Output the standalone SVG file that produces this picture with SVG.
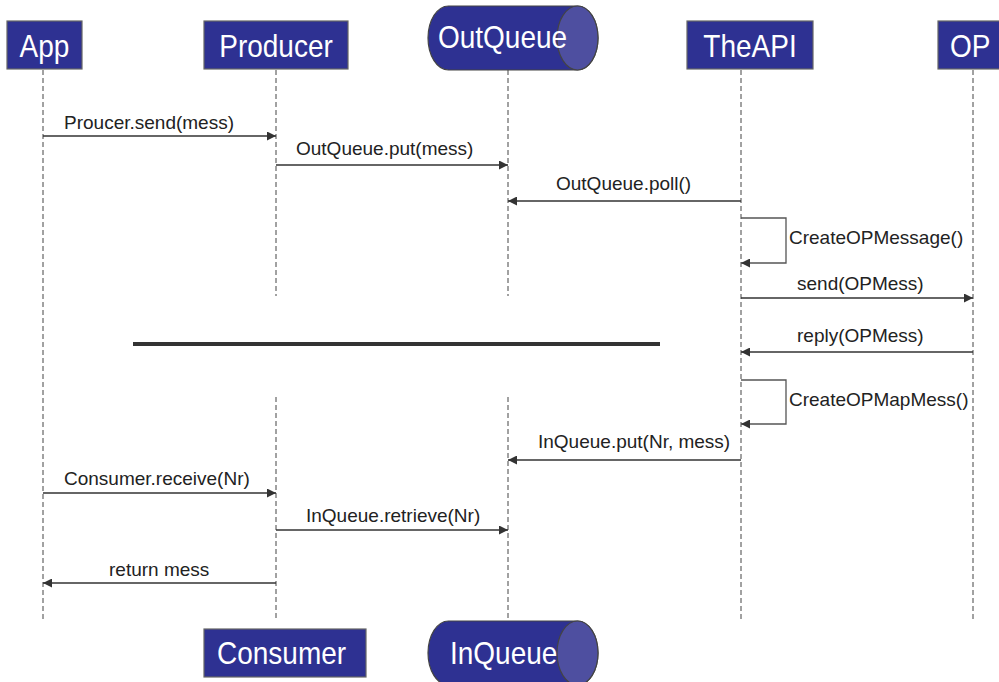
<svg xmlns="http://www.w3.org/2000/svg" width="999" height="682" viewBox="0 0 999 682">
<defs>
<style>
.box{fill:#2e3192;stroke:#666;stroke-width:1.2}
.cyl{fill:#2e3192;stroke:#444;stroke-width:1.2}
.cap{fill:#4e4fa0;stroke:#444;stroke-width:1.2}
.bt{font-family:"Liberation Sans",Arial,sans-serif;font-size:28px;fill:#fff}
.life{stroke:#444;stroke-width:1;stroke-dasharray:5 3;fill:none}
.msg{stroke:#333;stroke-width:1.5;fill:none}
.self{stroke:#555;stroke-width:1.3;fill:none}
.ml{font-family:"Liberation Sans",Arial,sans-serif;font-size:19px;fill:#222}
</style>
<marker id="ah" viewBox="0 0 10 10" refX="10" refY="5" markerWidth="10" markerHeight="9" markerUnits="userSpaceOnUse" orient="auto">
<path d="M0,0 L10,5 L0,10 z" fill="#333"/>
</marker>
</defs>
<rect width="999" height="682" fill="#fff"/>

<g id="lifelines">
<line class="life" x1="43" y1="70" x2="43" y2="620"/>
<line class="life" x1="276" y1="70" x2="276" y2="296"/>
<line class="life" x1="276" y1="397" x2="276" y2="620"/>
<line class="life" x1="508" y1="70" x2="508" y2="296"/>
<line class="life" x1="508" y1="397" x2="508" y2="620"/>
<line class="life" x1="741" y1="70" x2="741" y2="620"/>
<line class="life" x1="973" y1="70" x2="973" y2="620"/>
</g>

<g id="App"><rect class="box" x="7" y="21" width="75" height="48"/><text class="bt" transform="translate(44.5,57) scale(1,1.15)" text-anchor="middle">App</text></g>
<g id="Producer"><rect class="box" x="204" y="21" width="144" height="48"/><text class="bt" transform="translate(276,57) scale(1,1.15)" text-anchor="middle">Producer</text></g>
<g id="OutQueue">
<path class="cyl" d="M448.5,6 L577.5,6 A20.5,32 0 0 1 577.5,70 L448.5,70 A20.5,32 0 0 1 448.5,6 z"/>
<ellipse class="cap" cx="577.5" cy="38" rx="20.5" ry="32"/>
<text class="bt" transform="translate(438,48) scale(1,1.15)">OutQueue</text>
</g>
<g id="TheAPI"><rect class="box" x="687" y="21" width="126" height="48"/><text class="bt" transform="translate(750,57) scale(1,1.15)" text-anchor="middle">TheAPI</text></g>
<g id="OP"><rect class="box" x="938" y="21" width="70" height="48"/><text class="bt" transform="translate(950,57) scale(1,1.15)">OP</text></g>
<g id="Consumer"><rect class="box" x="204" y="629" width="162" height="48"/><text class="bt" transform="translate(217,664) scale(1,1.15)">Consumer</text></g>
<g id="InQueue">
<path class="cyl" d="M448.5,621 L577.5,621 A20.5,32 0 0 1 577.5,685 L448.5,685 A20.5,32 0 0 1 448.5,621 z"/>
<ellipse class="cap" cx="577.5" cy="653" rx="20.5" ry="32"/>
<text class="bt" transform="translate(450,664) scale(1,1.15)">InQueue</text>
</g>

<g id="divider"><line x1="133" y1="344" x2="660" y2="344" stroke="#333" stroke-width="4"/></g>

<g id="connectors">
<line class="msg" x1="43" y1="136" x2="276" y2="136" marker-end="url(#ah)"/>
<text class="ml" x="64" y="129">Proucer.send(mess)</text>
<line class="msg" x1="276" y1="165" x2="508" y2="165" marker-end="url(#ah)"/>
<text class="ml" x="296" y="155">OutQueue.put(mess)</text>
<line class="msg" x1="741" y1="201" x2="508" y2="201" marker-end="url(#ah)"/>
<text class="ml" x="556" y="190">OutQueue.poll()</text>
<path class="self" d="M741,218 L786,218 L786,263 L741,263" marker-end="url(#ah)"/>
<text class="ml" x="789" y="244">CreateOPMessage()</text>
<line class="msg" x1="741" y1="298" x2="973" y2="298" marker-end="url(#ah)"/>
<text class="ml" x="797" y="290">send(OPMess)</text>
<line class="msg" x1="973" y1="352" x2="741" y2="352" marker-end="url(#ah)"/>
<text class="ml" x="797" y="342">reply(OPMess)</text>
<path class="self" d="M741,380 L786,380 L786,424 L741,424" marker-end="url(#ah)"/>
<text class="ml" x="789" y="406">CreateOPMapMess()</text>
<line class="msg" x1="741" y1="460" x2="508" y2="460" marker-end="url(#ah)"/>
<text class="ml" x="538" y="448">InQueue.put(Nr, mess)</text>
<line class="msg" x1="43" y1="493" x2="276" y2="493" marker-end="url(#ah)"/>
<text class="ml" x="64" y="485">Consumer.receive(Nr)</text>
<line class="msg" x1="276" y1="530" x2="508" y2="530" marker-end="url(#ah)"/>
<text class="ml" x="306" y="522">InQueue.retrieve(Nr)</text>
<line class="msg" x1="276" y1="583" x2="43" y2="583" marker-end="url(#ah)"/>
<text class="ml" x="109" y="576">return mess</text>
</g>
</svg>
